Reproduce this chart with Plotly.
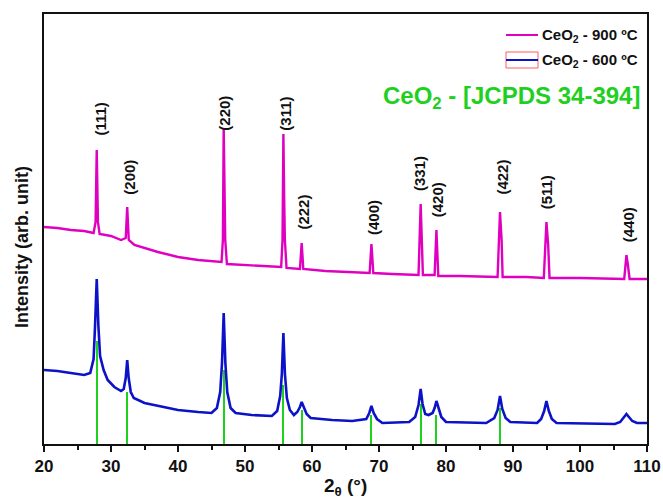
import plotly.graph_objects as go

# ---------------- data (arbitrary intensity units) ----------------
tt_900 = [20.0, 22.0, 24.0, 26.0, 27.4, 27.7, 27.87, 28.05, 28.3, 30.0, 31.5, 32.2, 32.42, 32.65,
          33.5, 35.0, 37.0, 40.0, 43.0, 46.5, 46.7, 46.82, 46.95, 47.05, 47.3, 50.0, 53.0, 55.4,
          55.6, 55.73, 55.85, 55.95, 56.2, 58.2, 58.46, 58.7, 62.0, 66.0, 68.6, 68.87, 69.15,
          72.0, 75.9, 76.22, 76.4, 76.55, 78.3, 78.57, 78.85, 82.0, 87.7, 88.06, 88.3, 88.45,
          92.0, 94.6, 94.99, 95.25, 95.45, 100.0, 106.6, 106.93, 107.15, 107.4, 110.0]
int_900 = [217, 216, 214, 213, 211, 222, 294, 222, 210, 208, 204, 206, 237, 204,
           199, 196, 192, 187, 184, 182, 204, 316, 244, 204, 180, 179, 178, 177,
           204, 310, 244, 204, 176, 175, 201, 175, 173, 172, 171, 200, 171,
           170, 169, 240, 194, 169, 169, 214, 168, 168, 167, 232, 204, 167,
           167, 166, 222, 199, 166, 166, 165, 189, 179, 165, 165]

tt_600 = [20.0, 22.0, 24.0, 26.0, 26.9, 27.4, 27.62, 27.87, 28.12, 28.37, 28.9, 29.5, 30.5, 31.5,
          31.9, 32.2, 32.42, 32.64, 32.95, 33.4, 35.0, 37.0, 40.0, 43.0, 45.0,
          45.8, 46.3, 46.57, 46.82, 47.07, 47.35, 47.85, 48.6, 51.0, 54.0,
          54.8, 55.25, 55.5, 55.73, 55.96, 56.25, 56.7, 57.3,
          57.8, 58.2, 58.46, 58.75, 59.2, 59.8, 63.0, 66.0,
          68.1, 68.55, 68.87, 69.2, 69.7, 70.5, 74.5,
          75.4, 75.9, 76.22, 76.5, 76.9, 77.4, 78.0, 78.3, 78.57, 78.85, 79.3, 80.0, 86.0,
          87.2, 87.7, 88.06, 88.4, 88.9, 89.6, 93.6,
          94.2, 94.65, 94.99, 95.35, 95.8, 96.5, 105.2,
          106.0, 106.5, 106.93, 107.3, 107.8, 108.5, 110.0]
int_600 = [74, 73, 71, 69, 71, 85, 118, 165, 118, 88, 74, 64, 57, 53,
           55, 66, 84, 66, 52, 46, 41, 38, 34, 32, 31,
           36, 52, 81, 131, 81, 52, 36, 31, 29, 28,
           33, 48, 70, 111, 70, 46, 34, 29,
           32, 37, 42, 37, 30, 26, 24, 23,
           25, 31, 38, 31, 25, 21, 22,
           27, 39, 55, 40, 30, 29, 31, 36, 43, 36, 27, 22, 21,
           26, 34, 48, 35, 26, 22, 21,
           25, 33, 43, 33, 25, 21, 20,
           22, 26, 30, 27, 23, 21, 21]

# JCPDS 34-394 reference sticks
stick_pos = [27.87, 32.45, 46.82, 55.73, 58.57, 68.87, 76.22, 78.57, 88.06]
stick_int = [103, 52, 74, 59, 34, 29, 40, 29, 36]

# Miller indices and where their labels sit
hkl = ["(111)", "(200)", "(220)", "(311)", "(222)", "(400)", "(331)", "(420)", "(422)", "(511)", "(440)"]
hkl_x = [28.3, 32.64, 46.82, 55.92, 58.6, 69.1, 75.98, 78.7, 88.3, 94.98, 107.2]
hkl_y = [325, 267, 331, 330, 232, 227, 270, 244, 267, 252, 219]

x_ticks = [20, 30, 40, 50, 60, 70, 80, 90, 100, 110]

MAGENTA = "#e000bf"
BLUE = "#0c12c8"
GREEN = "#1fd01f"
FONT = "Arial, Liberation Sans, sans-serif"

fig = go.Figure()
fig.add_trace(go.Bar(x=stick_pos, y=stick_int, width=0.3, marker=dict(color=GREEN, line=dict(width=0)),
                     name="CeO2 - [JCPDS 34-394]", showlegend=False))
fig.add_trace(go.Scatter(x=tt_600, y=int_600, mode="lines", line=dict(color=BLUE, width=2.6),
                         name="CeO2 - 600 ºC", showlegend=False))
fig.add_trace(go.Scatter(x=tt_900, y=int_900, mode="lines", line=dict(color=MAGENTA, width=2.4),
                         name="CeO2 - 900 ºC", showlegend=False))

for t, x, y in zip(hkl, hkl_x, hkl_y):
    fig.add_annotation(x=x, y=y, text="<b>%s</b>" % t, textangle=-90, showarrow=False,
                       font=dict(family=FONT, size=15, color="#111111"),
                       xanchor="center", yanchor="middle")

# manual legend (paper coordinates)
W, H = 603.0, 430.0
def px(p):
    return (p - 44) / W
def py(p):
    return (444 - p) / H

fig.add_shape(type="line", xref="paper", yref="paper", x0=px(506), x1=px(538), y0=py(35), y1=py(35),
              line=dict(color=MAGENTA, width=2))
fig.add_shape(type="rect", xref="paper", yref="paper", x0=px(506), x1=px(538), y0=py(52), y1=py(68),
              line=dict(color="#ff5a5a", width=1))
fig.add_shape(type="line", xref="paper", yref="paper", x0=px(506), x1=px(538), y0=py(60), y1=py(60),
              line=dict(color=BLUE, width=2))
fig.add_annotation(xref="paper", yref="paper", x=px(540), y=py(35), xanchor="left", yanchor="middle",
                   text="<b>CeO<sub>2</sub> - 900 ºC</b>", showarrow=False,
                   font=dict(family=FONT, size=15, color="#111111"))
fig.add_annotation(xref="paper", yref="paper", x=px(540), y=py(60), xanchor="left", yanchor="middle",
                   text="<b>CeO<sub>2</sub> - 600 ºC</b>", showarrow=False,
                   font=dict(family=FONT, size=15, color="#111111"))
fig.add_annotation(xref="paper", yref="paper", x=px(642), y=py(97), xanchor="right", yanchor="middle",
                   text="<b>CeO<sub>2</sub> - [JCPDS 34-394]</b>", showarrow=False,
                   font=dict(family=FONT, size=24, color=GREEN))

# axis titles
fig.add_annotation(xref="paper", yref="paper", x=px(345), y=py(487), xanchor="center", yanchor="middle",
                   text="<b>2<sub>θ</sub> (°)</b>", showarrow=False,
                   font=dict(family=FONT, size=19, color="#111111"))
fig.add_annotation(xref="paper", yref="paper", x=px(22), y=py(247), xanchor="center", yanchor="middle",
                   text="<b>Intensity (arb. unit)</b>", textangle=-90, showarrow=False,
                   font=dict(family=FONT, size=18, color="#111111"))

fig.update_layout(
    width=663, height=499,
    margin=dict(l=44, r=16, t=14, b=55, autoexpand=False),
    plot_bgcolor="white", paper_bgcolor="white",
    bargap=0,
    font=dict(family=FONT, color="#111111"),
)
fig.update_xaxes(range=[20, 110], tickvals=x_ticks, ticktext=["<b>%d</b>" % v for v in x_ticks],
                 tickfont=dict(family=FONT, size=17, color="#111111"),
                 ticks="outside", ticklen=6, tickwidth=2, tickcolor="#111111",
                 minor=dict(dtick=5, ticks="outside", ticklen=4, tickwidth=2, tickcolor="#111111"),
                 showline=True, linecolor="#111111", linewidth=2, mirror=True,
                 showgrid=False, zeroline=False, automargin=False)
fig.update_yaxes(range=[0, 430], showticklabels=False, ticks="",
                 showline=True, linecolor="#111111", linewidth=2, mirror=True,
                 showgrid=False, zeroline=False, automargin=False)

fig.write_html("out.html")
